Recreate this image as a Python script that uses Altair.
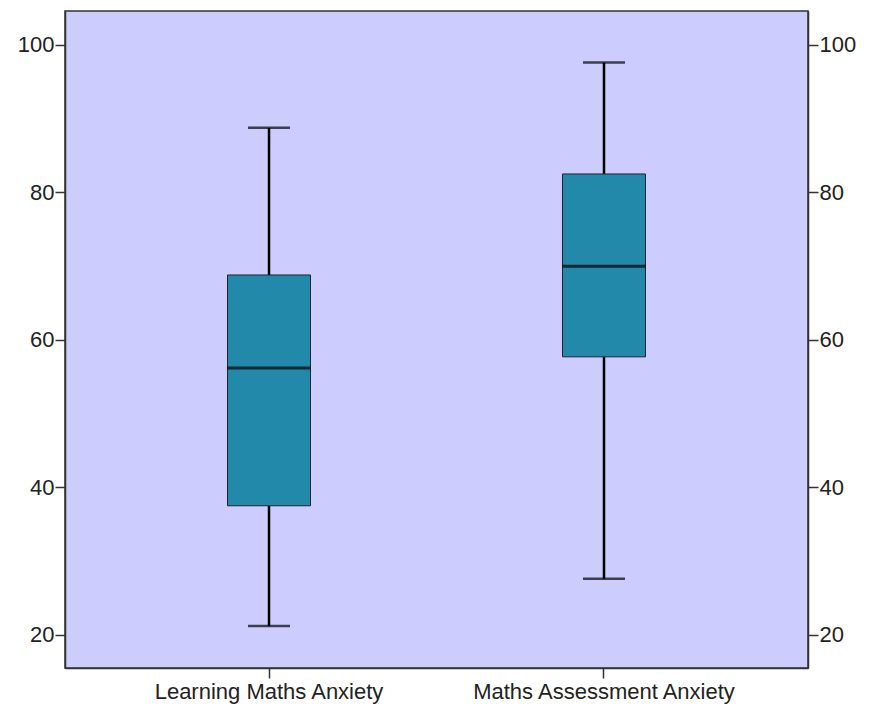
import altair as alt
import pandas as pd

categories = ["Learning Maths Anxiety", "Maths Assessment Anxiety"]
minimum = [21.2, 27.6]
q1 = [37.5, 57.7]
median = [56.2, 70.0]
q3 = [68.8, 82.5]
maximum = [88.75, 97.6]
y_ticks = [20, 40, 60, 80, 100]

df = pd.DataFrame({
    "cat": categories, "min": minimum, "q1": q1,
    "med": median, "q3": q3, "max": maximum,
})

FONT = "Liberation Sans"
yscale = alt.Scale(domain=[15.5, 104.6], nice=False, zero=False)
xscale = alt.Scale(paddingInner=0, paddingOuter=0.109)

axis_common = dict(values=y_ticks, grid=False, tickSize=10, tickWidth=1.5,
                   tickColor="#333", domainColor="#333", domainWidth=1.5,
                   labelFont=FONT, labelFontSize=22, labelColor="#222",
                   labelPadding=1, title=None)

x = alt.X("cat:N", scale=xscale, sort=categories,
          axis=alt.Axis(title=None, labelAngle=0, tickSize=10, tickWidth=1.5,
                        tickColor="#333", domainColor="#333", domainWidth=1.5,
                        labelFont=FONT, labelFontSize=22, labelColor="#222",
                        labelPadding=3, labelLimit=0, grid=False))

base = alt.Chart(df)

lower = base.mark_rule(color="black", strokeWidth=2.5).encode(
    x=x,
    y=alt.Y("min:Q", scale=yscale, axis=alt.Axis(orient="left", **axis_common)),
    y2="q1:Q",
)
upper = base.mark_rule(color="black", strokeWidth=2.5).encode(
    x=x,
    y=alt.Y("q3:Q", scale=yscale, axis=alt.Axis(orient="right", **axis_common)),
    y2="max:Q",
)
box = base.mark_bar(size=83, fill="#2389AB", stroke="#222", strokeWidth=1).encode(
    x=x,
    y=alt.Y("q1:Q", scale=yscale, axis=None),
    y2="q3:Q",
)
med = base.mark_tick(size=83, thickness=3, color="black", orient="horizontal").encode(
    x=x, y=alt.Y("med:Q", scale=yscale, axis=None))
capmin = base.mark_tick(size=42, thickness=2.5, color="black", orient="horizontal").encode(
    x=x, y=alt.Y("min:Q", scale=yscale, axis=None))
capmax = base.mark_tick(size=42, thickness=2.5, color="black", orient="horizontal").encode(
    x=x, y=alt.Y("max:Q", scale=yscale, axis=None))

chart = alt.layer(lower, upper, box, med, capmin, capmax).resolve_axis(
    y="independent"
).resolve_scale(y="shared").properties(
    width=743, height=657,
    padding={"left": 9, "top": 3, "right": 5, "bottom": 5},
    background="white",
).configure_view(
    fill="#CCCCFF", stroke="#333", strokeWidth=1.5
)

chart.save("out.html", embed_options={"renderer": "svg", "actions": False})
